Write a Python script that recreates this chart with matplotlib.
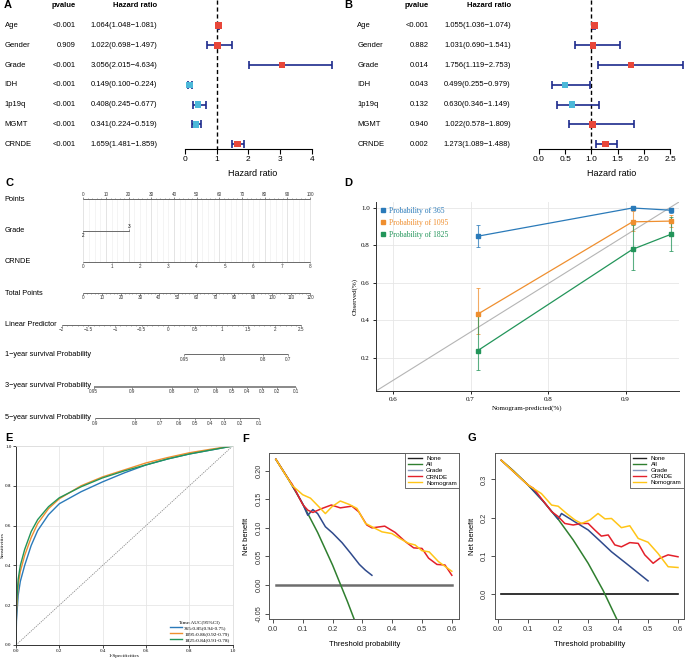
import numpy as np
import matplotlib.pyplot as plt
from matplotlib.lines import Line2D
from matplotlib.ticker import FormatStrFormatter

# ===============================
# DATA
# ===============================

variables = ["Age", "Gender", "Grade", "IDH", "1p19q", "MGMT", "CRNDE"]

# A: univariate cox
uni_p = ["<0.001", "0.909", "<0.001", "<0.001", "<0.001", "<0.001", "<0.001"]
uni_hr = [1.064, 1.022, 3.056, 0.149, 0.408, 0.341, 1.659]
uni_lo = [1.048, 0.698, 2.015, 0.100, 0.245, 0.224, 1.481]
uni_hi = [1.081, 1.497, 4.634, 0.224, 0.677, 0.519, 1.859]

# B: multivariate cox
multi_p = ["<0.001", "0.882", "0.014", "0.043", "0.132", "0.940", "0.002"]
multi_hr = [1.055, 1.031, 1.756, 0.499, 0.630, 1.022, 1.273]
multi_lo = [1.036, 0.690, 1.119, 0.255, 0.346, 0.578, 1.089]
multi_hi = [1.074, 1.541, 2.753, 0.979, 1.149, 1.809, 1.488]

# C: nomogram
points_ticks = np.arange(0, 101, 10)
grade_levels = ["2", "3"]
grade_points = [0, 20.3]
crnde_ticks = np.arange(0, 9)
crnde_points_per_unit = 12.5
total_ticks = np.arange(0, 121, 10)
lp_ticks = [-2, -1.5, -1, -0.5, 0, 0.5, 1, 1.5, 2, 2.5]
lp_zero_points = 37.5      # position of LP = 0 on the points axis
lp_points_per_unit = 23.5
surv1_ticks = [0.95, 0.9, 0.8, 0.7]
surv3_ticks = [0.95, 0.9, 0.8, 0.7, 0.6, 0.5, 0.4, 0.3, 0.2, 0.1]
surv5_ticks = [0.9, 0.8, 0.7, 0.6, 0.5, 0.4, 0.3, 0.2, 0.1]
base_cumhaz = {1: 0.038, 3: 0.208, 5: 0.42}

# D: calibration
cal_x = [0.709, 0.909, 0.959]
cal_365 = [0.849, 1.000, 0.988]
cal_365_lo = [0.792, 1.000, 0.975]
cal_365_hi = [0.911, 1.000, 1.000]
cal_1095 = [0.432, 0.926, 0.930]
cal_1095_lo = [0.327, 0.875, 0.900]
cal_1095_hi = [0.571, 0.985, 0.960]
cal_1825 = [0.237, 0.779, 0.860]
cal_1825_lo = [0.133, 0.670, 0.770]
cal_1825_hi = [0.423, 0.910, 0.950]

# E: time ROC
roc_fpr = [0, 0.002, 0.01, 0.02, 0.04, 0.07, 0.1, 0.15, 0.2, 0.3, 0.4, 0.5, 0.6, 0.7, 0.8, 0.9, 1.0]
roc_365 = [0, 0.12, 0.25, 0.32, 0.40, 0.50, 0.575, 0.655, 0.71, 0.77, 0.82, 0.865, 0.905, 0.935, 0.96, 0.98, 1.0]
roc_1095 = [0, 0.17, 0.30, 0.37, 0.45, 0.54, 0.61, 0.685, 0.735, 0.80, 0.845, 0.88, 0.915, 0.942, 0.966, 0.984, 1.0]
roc_1825 = [0, 0.20, 0.33, 0.40, 0.48, 0.57, 0.63, 0.695, 0.74, 0.795, 0.84, 0.875, 0.905, 0.935, 0.96, 0.98, 1.0]
roc_labels = ["365:0.85(0.94-0.75)", "1095:0.86(0.92-0.79)", "1825:0.84(0.91-0.78)"]

# F: decision curve (cohort 1)
f_none_t = [0.01, 0.6]
f_none = [0.0, 0.0]
f_all_t = [0.01, 0.05, 0.10, 0.15, 0.20, 0.25, 0.28]
f_all = [0.220, 0.187, 0.142, 0.092, 0.035, -0.029, -0.07]
f_grade_t = [0.01, 0.05, 0.08, 0.10, 0.117, 0.134, 0.15, 0.176, 0.2, 0.232, 0.26, 0.29, 0.31, 0.332]
f_grade = [0.220, 0.187, 0.161, 0.142, 0.122, 0.132, 0.125, 0.102, 0.091, 0.074, 0.056, 0.036, 0.026, 0.017]
f_crnde_t = [0.01, 0.05, 0.065, 0.1, 0.117, 0.134, 0.165, 0.196, 0.226, 0.265, 0.288, 0.315, 0.332,
             0.375, 0.41, 0.444, 0.472, 0.5, 0.522, 0.55, 0.577, 0.6]
f_crnde = [0.220, 0.187, 0.176, 0.141, 0.131, 0.127, 0.134, 0.140, 0.135, 0.138, 0.128, 0.105, 0.100,
           0.103, 0.092, 0.076, 0.065, 0.064, 0.047, 0.036, 0.035, 0.017]
f_nomo_t = [0.01, 0.065, 0.1, 0.126, 0.154, 0.176, 0.198, 0.226, 0.256, 0.282, 0.31, 0.332, 0.366,
            0.399, 0.427, 0.455, 0.477, 0.5, 0.524, 0.555, 0.6]
f_nomo = [0.220, 0.174, 0.158, 0.152, 0.137, 0.125, 0.137, 0.147, 0.141, 0.134, 0.108, 0.102, 0.093,
          0.090, 0.081, 0.073, 0.070, 0.060, 0.058, 0.041, 0.024]

# G: decision curve (cohort 2)
g_none_t = [0.01, 0.6]
g_none = [0.0, 0.0]
g_all_t = [0.01, 0.05, 0.1, 0.15, 0.2, 0.25, 0.3, 0.35, 0.4]
g_all = [0.350, 0.323, 0.285, 0.243, 0.196, 0.142, 0.081, 0.010, -0.072]
g_grade_t = [0.01, 0.1, 0.15, 0.2, 0.211, 0.25, 0.3, 0.34, 0.378, 0.433, 0.5]
g_grade = [0.350, 0.285, 0.243, 0.196, 0.211, 0.192, 0.168, 0.139, 0.111, 0.077, 0.035]
g_crnde_t = [0.01, 0.1, 0.117, 0.144, 0.178, 0.2, 0.222, 0.25, 0.278, 0.3, 0.322, 0.344, 0.367,
             0.389, 0.411, 0.439, 0.467, 0.489, 0.517, 0.539, 0.567, 0.6]
g_crnde = [0.350, 0.285, 0.277, 0.250, 0.216, 0.203, 0.185, 0.181, 0.185, 0.185, 0.168, 0.152, 0.155,
           0.129, 0.124, 0.135, 0.133, 0.103, 0.081, 0.094, 0.103, 0.098]
g_nomo_t = [0.01, 0.1, 0.144, 0.178, 0.2, 0.228, 0.256, 0.278, 0.306, 0.333, 0.356, 0.378, 0.411,
            0.439, 0.467, 0.5, 0.533, 0.567, 0.6]
g_nomo = [0.350, 0.285, 0.263, 0.233, 0.230, 0.211, 0.194, 0.185, 0.194, 0.211, 0.197, 0.198, 0.174,
          0.179, 0.146, 0.136, 0.107, 0.072, 0.070]

# ===============================
# FIGURE
# ===============================

W, H = 685, 659
plt.rcParams['font.family'] = ['Liberation Sans', 'DejaVu Sans']
fig = plt.figure(figsize=(W / 100, H / 100), dpi=100)


def add_ax(l, t, r, b):
    # axes from pixel box (left, top, right, bottom)
    return fig.add_axes([l / W, 1 - b / H, (r - l) / W, (b - t) / H])


def fig_text(px, py, s, **kw):
    fig.text(px / W, 1 - py / H, s, **kw)


for letter, (px, py) in {"A": (4, 5), "B": (344, 5), "C": (5, 183), "D": (344, 183),
                         "E": (5, 438), "F": (242, 439), "G": (468, 438)}.items():
    fig_text(px, py, letter, fontsize=8, weight="bold", va="center", ha="left")

# ===============================
# A / B: FOREST PLOTS
# ===============================

RED = "#e8473a"
BLUE = "#4cb8d9"
NAVY = "#1c2a8c"


def forest(l, r, x0, scale, pvals, hr, lo, hi, name_px, p_px, hr_px, ticks, fmt):
    ax = add_ax(l, 0, r, 148.7)
    hx = lambda px: (px - x0) / scale
    ax.set_xlim(hx(l), hx(r))
    ax.set_ylim(6.237, -1.303)
    rows = np.arange(len(variables))
    hr = np.array(hr)
    lo = np.array(lo)
    hi = np.array(hi)
    ax.plot([1, 1], [-1.303, 6.237], ls=(0, (3, 2)), color="black", lw=1.0, zorder=1)
    ax.errorbar(hr, rows, xerr=[hr - lo, hi - hr], fmt="none", ecolor=NAVY,
                elinewidth=1.2, capsize=2.6, capthick=1.2, zorder=2, clip_on=False)
    cols = [RED if v > 1 else BLUE for v in hr]
    ax.scatter(hr, rows, marker="s", s=22, c=cols, zorder=3, linewidths=0, clip_on=False)
    ax.text(hx(p_px), -1.0, "pvalue", ha="right", va="center", fontsize=5.5, weight="bold")
    ax.text(hx(hr_px), -1.0, "Hazard ratio", ha="right", va="center", fontsize=5.5, weight="bold")
    for i, name in enumerate(variables):
        ax.text(hx(name_px), i, name, ha="left", va="center", fontsize=5.5)
        ax.text(hx(p_px), i, pvals[i], ha="right", va="center", fontsize=5.5)
        ax.text(hx(hr_px), i, f"{hr[i]:.3f}({lo[i]:.3f}\u2212{hi[i]:.3f})",
                ha="right", va="center", fontsize=5.5)
    for s in ["top", "right", "left"]:
        ax.spines[s].set_visible(False)
    ax.spines["bottom"].set_bounds(ticks[0], ticks[-1])
    ax.spines["bottom"].set_linewidth(0.8)
    ax.set_xticks(ticks)
    ax.set_xticklabels([fmt.format(t) for t in ticks])
    ax.tick_params(axis="x", labelsize=6, length=3.5, width=0.8, pad=1.5)
    ax.set_yticks([])
    ax.patch.set_alpha(0)
    return ax


forest(0, 340, 185, 31.67, uni_p, uni_hr, uni_lo, uni_hi, 4.7, 76, 157, [0, 1, 2, 3, 4], "{:g}")
forest(340, 685, 539, 52.4, multi_p, multi_hr, multi_lo, multi_hi, 357.3, 428.7, 510.7,
       [0, 0.5, 1, 1.5, 2, 2.5], "{:.1f}")
fig_text(253, 174, "Hazard ratio", fontsize=6.5, ha="center", va="center")
fig_text(612, 174, "Hazard ratio", fontsize=6.5, ha="center", va="center")

# ===============================
# C: NOMOGRAM
# ===============================

axC = add_ax(0, 180, 340, 430)
px2pt = lambda px: (px - 83.3) / 2.267
axC.set_xlim(px2pt(0), px2pt(340))
axC.set_ylim(430, 180)
axC.axis("off")

LINE = "#6a6a6a"
TICKFS = 3.3

# grid
for g in np.arange(0, 100.01, 2.5):
    c = "#d9d9d9" if g % 10 == 0 else "#f0f0f0"
    axC.plot([g, g], [199, 261.5], color=c, lw=0.5, zorder=0)


def nomo_row(y, label, pos, labels, above=False, minor=None, label_y=None, lw=0.7):
    axC.text(px2pt(4.7), label_y if label_y else y, label, ha="left", va="center", fontsize=5.3)
    axC.plot([min(pos), max(pos)], [y, y], color=LINE, lw=lw, solid_capstyle="butt")
    d = -1 if above else 1
    axC.vlines(pos, y, y + d * 1.8, color=LINE, lw=0.5)
    if minor is not None:
        axC.vlines(minor, y, y + d * 1.0, color=LINE, lw=0.4)
    for p, s in zip(pos, labels):
        axC.text(p, y + d * 4.8, s, ha="center", va="center", fontsize=TICKFS, color="#333333")


nomo_row(199, "Points", points_ticks, [str(v) for v in points_ticks], above=True,
         minor=np.arange(0, 101, 2))

# grade row: "2" below left, "3" above right
axC.text(px2pt(4.7), 230.5, "Grade", ha="left", va="center", fontsize=5.3)
axC.plot(grade_points, [230.5, 230.5], color=LINE, lw=0.7)
axC.vlines(grade_points, 230.5, [232.3, 228.7], color=LINE, lw=0.5)
axC.text(grade_points[0], 235.5, grade_levels[0], ha="center", va="center", fontsize=TICKFS)
axC.text(grade_points[1], 226, grade_levels[1], ha="center", va="center", fontsize=TICKFS)

nomo_row(261.5, "CRNDE", crnde_ticks * crnde_points_per_unit, [str(v) for v in crnde_ticks])
nomo_row(293, "Total Points", total_ticks * 100 / 120, [str(v) for v in total_ticks],
         minor=np.arange(0, 121, 2) * 100 / 120)

lp_pos = [lp_zero_points + lp_points_per_unit * v for v in lp_ticks]
nomo_row(324.5, "Linear Predictor", lp_pos,
         [f"{v:g}".replace("-", "\u2212") for v in lp_ticks],
         minor=[lp_zero_points + lp_points_per_unit * v for v in np.arange(-2, 2.51, 0.1)])


def surv_pos(s, year):
    lp = np.log(-np.log(np.array(s)) / base_cumhaz[year])
    return lp_zero_points + lp_points_per_unit * lp


nomo_row(354.3, "1\u2212year survival Probability", surv_pos(surv1_ticks, 1),
         [f"{v:g}" for v in surv1_ticks], label_y=354.5)
nomo_row(386.7, "3\u2212year survival Probability", surv_pos(surv3_ticks, 3),
         [f"{v:g}" for v in surv3_ticks], label_y=385.5, lw=1.1)
nomo_row(418.3, "5\u2212year survival Probability", surv_pos(surv5_ticks, 5),
         [f"{v:g}" for v in surv5_ticks], label_y=417)

# ===============================
# D: CALIBRATION
# ===============================

SERIF = ["Liberation Serif", "DejaVu Serif"]
C365, C1095, C1825 = "#2a7ab9", "#ef8f2f", "#23955a"

axD = add_ax(376, 202, 679, 391)
axD.set_xlim(0.578, 0.969)
axD.set_ylim(0.022, 1.032)
axD.set_xticks([0.6, 0.7, 0.8, 0.9])
axD.set_yticks([0.2, 0.4, 0.6, 0.8, 1.0])
axD.yaxis.set_major_formatter(FormatStrFormatter("%.1f"))
axD.grid(color="#e6e6e6", lw=0.6)
axD.set_axisbelow(True)
axD.plot([0, 1], [0, 1], transform=axD.transAxes, color="#b5b5b5", lw=0.8, zorder=1)
for y, lo, hi, c in [(cal_365, cal_365_lo, cal_365_hi, C365),
                     (cal_1095, cal_1095_lo, cal_1095_hi, C1095),
                     (cal_1825, cal_1825_lo, cal_1825_hi, C1825)]:
    y = np.array(y)
    axD.errorbar(cal_x, y, yerr=[y - np.array(lo), np.array(hi) - y], fmt="none", ecolor=c,
                 elinewidth=0.8, capsize=1.6, capthick=0.7, alpha=0.75, zorder=2)
    axD.plot(cal_x, y, color=c, lw=0.9, marker="s", ms=2.4, zorder=3)
for s in ["top", "right"]:
    axD.spines[s].set_visible(False)
for s in ["left", "bottom"]:
    axD.spines[s].set_color("#333333")
    axD.spines[s].set_linewidth(0.7)
axD.tick_params(labelsize=5, length=2.5, width=0.6, pad=2)
for lab in axD.get_xticklabels() + axD.get_yticklabels():
    lab.set_family(SERIF)
axD.set_xlabel("Nomogram-predicted(%)", fontsize=5, family=SERIF, labelpad=2)
axD.set_ylabel("Observed(%)", fontsize=5, family=SERIF, labelpad=2)
hd = [Line2D([], [], ls="none", marker="s", ms=2.4, color=c) for c in [C365, C1095, C1825]]
axD.legend(hd, ["Probability of 365", "Probability of 1095", "Probability of 1825"],
           loc="upper left", frameon=False, handlelength=0.6, handletextpad=0.5,
           labelspacing=0.55, borderaxespad=0.3, borderpad=0.3,
           labelcolor=[C365, C1095, C1825], prop={"family": SERIF, "size": 5.5})

# ===============================
# E: TIME ROC
# ===============================

axE = add_ax(16, 446, 232.7, 645)
axE.set_xlim(0, 1)
axE.set_ylim(0, 1)
ticks01 = [0, 0.2, 0.4, 0.6, 0.8, 1.0]
axE.set_xticks(ticks01)
axE.set_yticks(ticks01)
axE.xaxis.set_major_formatter(FormatStrFormatter("%.1f"))
axE.yaxis.set_major_formatter(FormatStrFormatter("%.1f"))
axE.grid(color="#e6e6e6", lw=0.6)
axE.set_axisbelow(True)
axE.plot([0, 1], [0, 1], color="#8a8a8a", lw=0.6, ls=(0, (1.5, 1.2)))
axE.plot(roc_fpr, roc_365, color=C365, lw=1.0, label=roc_labels[0])
axE.plot(roc_fpr, roc_1095, color=C1095, lw=1.0, label=roc_labels[1])
axE.plot(roc_fpr, roc_1825, color=C1825, lw=1.0, label=roc_labels[2])
for s in ["top", "right"]:
    axE.spines[s].set_color("#dddddd")
    axE.spines[s].set_linewidth(0.6)
for s in ["left", "bottom"]:
    axE.spines[s].set_color("#333333")
    axE.spines[s].set_linewidth(0.7)
axE.tick_params(labelsize=3.6, length=2, width=0.5, pad=1.2)
for lab in axE.get_xticklabels() + axE.get_yticklabels():
    lab.set_family(SERIF)
axE.set_xlabel("1-Specificities", fontsize=3.8, family=SERIF, labelpad=0.5)
axE.set_ylabel("Sensitivities", fontsize=3.8, family=SERIF, labelpad=0.5)
axE.legend(loc="lower right", title="Time:AUC(95%CI)", frameon=False, handlelength=2.2,
           handletextpad=0.4, labelspacing=0.2, borderaxespad=0.2,
           prop={"family": SERIF, "size": 3.8}, title_fontproperties={"family": SERIF, "size": 3.8})

# ===============================
# F / G: DECISION CURVES
# ===============================

DCA_COLS = {"All": "#2f7f2f", "Grade": "#2f4a8c", "CRNDE": "#e3202a", "Nomogram": "#ffc517"}


def dca(l, t, r, b, xlim, ylim, none_col, none_lw, series, yticks, yfmt):
    ax = add_ax(l, t, r, b)
    ax.set_xlim(*xlim)
    ax.set_ylim(*ylim)
    handles = []
    for name, (tt, nb) in series.items():
        if name == "None":
            ax.plot(tt, nb, color=none_col, lw=none_lw)
            handles.append(Line2D([], [], color="#222222", lw=1.0))
        else:
            ax.plot(tt, nb, color=DCA_COLS[name], lw=1.1)
            lc = "#8798bd" if name == "Grade" else DCA_COLS[name]
            handles.append(Line2D([], [], color=lc, lw=1.0))
    ax.set_xticks([0, 0.1, 0.2, 0.3, 0.4, 0.5, 0.6])
    ax.xaxis.set_major_formatter(FormatStrFormatter("%.1f"))
    ax.set_yticks(yticks)
    ax.yaxis.set_major_formatter(FormatStrFormatter(yfmt))
    ax.tick_params(labelsize=5.3, length=3, width=0.6, pad=2, colors="#333333")
    ax.tick_params(axis="y", labelrotation=90)
    for lab in ax.get_yticklabels():
        lab.set_va("center")
    for s in ax.spines.values():
        s.set_color("#555555")
        s.set_linewidth(0.7)
    ax.set_xlabel("Threshold probability", fontsize=5.5, labelpad=6)
    ax.set_ylabel("Net benefit", fontsize=5.5, labelpad=4)
    leg = ax.legend(handles, list(series.keys()), loc="upper right", fontsize=4.5,
                    fancybox=False, edgecolor="#555555", framealpha=1, borderaxespad=0,
                    handlelength=2.2, labelspacing=0.12, handletextpad=0.7, borderpad=0.4)
    leg.get_frame().set_linewidth(0.6)
    return ax


dca(269.3, 453.3, 459.3, 619, (-0.012, 0.625), (-0.0595, 0.2305), "#6d6d6d", 1.8,
    {"None": (f_none_t, f_none), "All": (f_all_t, f_all), "Grade": (f_grade_t, f_grade),
     "CRNDE": (f_crnde_t, f_crnde), "Nomogram": (f_nomo_t, f_nomo)},
    [-0.05, 0, 0.05, 0.10, 0.15, 0.20], "%.2f")

dca(495, 453, 684, 619, (-0.011, 0.62), (-0.0645, 0.369), "#111111", 1.2,
    {"None": (g_none_t, g_none), "All": (g_all_t, g_all), "Grade": (g_grade_t, g_grade),
     "CRNDE": (g_crnde_t, g_crnde), "Nomogram": (g_nomo_t, g_nomo)},
    [0, 0.1, 0.2, 0.3], "%.1f")

plt.savefig("out.png", dpi=100)
